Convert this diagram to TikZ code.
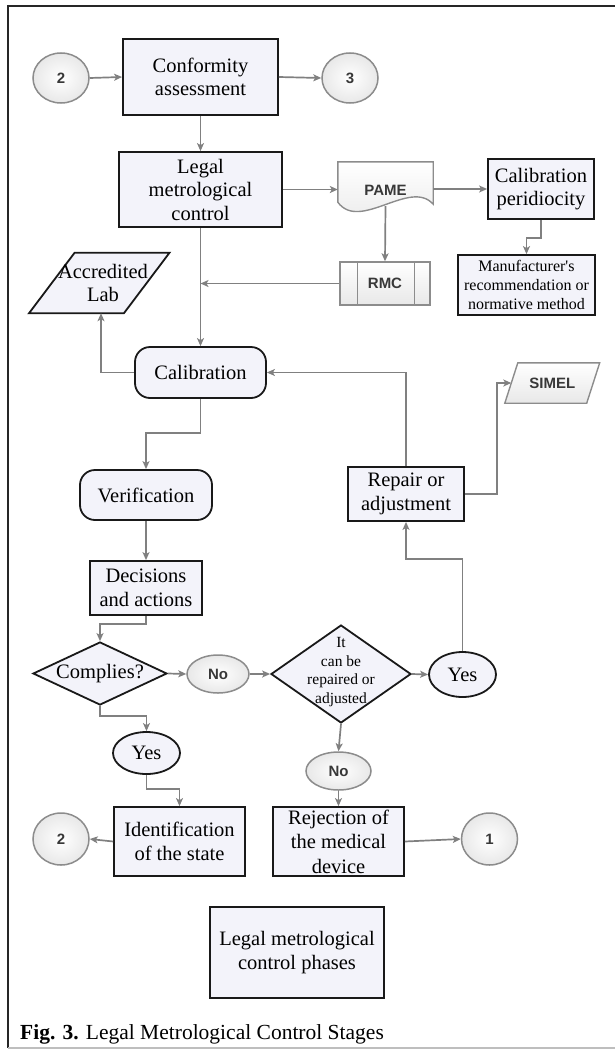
\documentclass[tikz,border=0pt]{standalone}
\usepackage{fontspec}
\setmainfont{Liberation Serif}
\newfontfamily\flowsans{Liberation Sans}
\usetikzlibrary{shapes.geometric,arrows.meta,calc}

\definecolor{boxfill}{RGB}{243,243,250}
\definecolor{linkgray}{RGB}{128,128,128}
\definecolor{rimgray}{RGB}{140,140,140}
\definecolor{termfill}{RGB}{232,232,232}
\definecolor{framegray}{RGB}{190,190,190}

\pgfdeclarelayer{bg}
\pgfsetlayers{bg,main}

\begin{document}
\begin{tikzpicture}[x=1pt,y=-1pt,
  txt/.style={font=\fontsize{20.5}{23.5}\selectfont},
  proc/.style={draw=black!90, line width=1.8pt, fill=boxfill, align=center, inner sep=0pt, txt},
  roundproc/.style={proc, rounded corners=15pt},
  sanslbl/.style={font=\flowsans\bfseries\fontsize{15}{17}\selectfont, text=black!78},
  term/.style={ellipse, draw=rimgray, line width=1.5pt, inner color=white, outer color=termfill, inner sep=0pt, sanslbl},
  answer/.style={ellipse, draw=black!90, line width=1.8pt, fill=boxfill, inner sep=0pt, txt},
  decision/.style={diamond, draw=black!90, line width=1.8pt, fill=boxfill, inner sep=0pt},
  grayshape/.style={draw=rimgray, line width=1.4pt, top color=white, bottom color=termfill},
  slanted/.style={draw=black!90, line width=1.8pt, fill=boxfill},
  link/.style={draw=linkgray, line width=1.7pt, -{Stealth[length=8pt,width=7pt,inset=2pt]}}
]
\useasboundingbox (0,0) rectangle (615,1049);

% page frame
\draw[line width=2.5pt, black!85] (8,6) -- (615,6);
\draw[line width=2pt, black!85] (8,5) -- (8,1048);
\draw[line width=1.2pt, framegray] (8,1048) -- (615,1048);

% ---------- nodes ----------
\node[term, minimum width=56, minimum height=50] (c2t) at (61,78) {2};
\node[proc, minimum width=155, minimum height=76] (conf) at (200.5,77) {Conformity\\assessment};
\node[term, minimum width=56, minimum height=50] (c3) at (350,78) {3};

\node[proc, minimum width=163, minimum height=75] (legal) at (200.5,189.5) {Legal\\metrological\\control};
\node[sanslbl, minimum width=95, minimum height=56, inner sep=0pt] (pame) at (385.5,190) {PAME};
\node[proc, minimum width=106, minimum height=60] (calper) at (541,189) {Calibration\\peridiocity};
\node[proc, minimum width=137, minimum height=60, font=\fontsize{16}{19}\selectfont] (manu) at (526.5,285) {Manufacturer\textquotesingle s\\recommendation or\\normative method};

\node[grayshape, sanslbl, minimum width=90, minimum height=43, inner sep=0pt] (rmc) at (385,283.5) {RMC};
\draw[rimgray, line width=1.4pt] ([xshift=18]rmc.north west) -- ([xshift=18]rmc.south west);
\draw[rimgray, line width=1.4pt] ([xshift=-16]rmc.north east) -- ([xshift=-16]rmc.south east);

\node[txt, align=center, inner sep=0pt, minimum width=94.5, minimum height=60] (acc) at (103,283) {Accredited\\Lab};
\node[roundproc, minimum width=131, minimum height=51] (cal) at (200.5,372.5) {Calibration};
\node[sanslbl, inner sep=0pt, minimum width=81.5, minimum height=40] (simel) at (552.25,383) {SIMEL};

\node[roundproc, minimum width=132, minimum height=50] (ver) at (146,495) {Verification};
\node[proc, minimum width=116, minimum height=54] (rep) at (406,494) {Repair or\\adjustment};
\node[proc, minimum width=112, minimum height=54] (dec) at (146,588) {Decisions\\and actions};

\node[decision, minimum width=134, minimum height=63,
  label={[txt]center:Complies?}] (comp) at (100,673.5) {};
\node[term, minimum width=62, minimum height=38] (noA) at (218,674) {No};
\node[decision, minimum width=140, minimum height=98,
  label={[font=\fontsize{15.5}{18.5}\selectfont, align=center, yshift=2pt]center:{It\\can be\\repaired or\\adjusted}}] (d2) at (341,674) {};
\node[answer, minimum width=67, minimum height=45] (yesR) at (462.5,674.5) {Yes};

\node[answer, minimum width=67, minimum height=42] (yesB) at (146.5,753) {Yes};
\node[term, minimum width=65, minimum height=38] (noB) at (338.5,771) {No};

\node[proc, minimum width=131, minimum height=69] (ident) at (179.5,841.5) {Identification\\of the state};
\node[proc, minimum width=131, minimum height=69, font=\fontsize{20.5}{24.5}\selectfont] (rej) at (338.5,841.5) {Rejection of\\the medical\\device};
\node[term, minimum width=56, minimum height=52] (c2b) at (61,839) {2};
\node[term, minimum width=56, minimum height=52] (c1) at (489.5,839) {1};

\node[proc, minimum width=174, minimum height=91] (legend) at (297,952.5) {Legal metrological\\control phases};

\node[anchor=base west, font=\fontsize{21.5}{24}\selectfont, inner sep=0pt] (caption) at (20,1039)
  {\textbf{Fig. 3.} Legal Metrological Control Stages};

% ---------- outlines drawn behind their labels ----------
\begin{pgfonlayer}{bg}
  % document shape
  \draw[grayshape] (pame.north west) -- (pame.north east) -- ($(pame.south east)+(0,-14)$)
    .. controls ($(pame.south east)+(-23,-40)$) and ($(pame.south west)+(22,14)$) .. ($(pame.south west)+(0,-16)$)
    -- cycle;
  % data shapes
  \draw[slanted] ($(acc.south west)+(-26.5,0)$) -- ($(acc.south east)+(-26.5,0)$)
    -- ($(acc.north east)+(19,0)$) -- ($(acc.north west)+(19,0)$) -- cycle;
  \draw[grayshape] ($(simel.south west)+(-6.5,0)$) -- ($(simel.south east)+(-6.5,0)$)
    -- ($(simel.north east)+(6.5,0)$) -- ($(simel.north west)+(6.5,0)$) -- cycle;
\end{pgfonlayer}

\coordinate (pamebot) at ($(pame.south)+(0,-12)$);
\coordinate (accfoot) at ($(acc.south)+(-2,0)$);

% ---------- connectors ----------
\draw[link] (c2t.east) -- (conf.west);
\draw[link] (conf.east) -- (c3.west);
\draw[link] (conf.south) -- (legal.north);
\draw[link] (legal.east) -- (legal.east -| pame.west);
\draw[link] (calper.west -| pame.east) -- (calper.west);
\draw[link] (calper.south) -- ++(0,18) -| (manu.north);
\draw[link] (pamebot) -- (rmc.north);
\draw[link] (rmc.west) -- (rmc.west -| legal.south);
\draw[link] (legal.south) -- (cal.north);
\draw[link] (cal.west) -| (accfoot);
\draw[link] (rep.north) |- (cal.east);
\draw[link] (rep.east) -- ++(32,0) |- (simel.west);
\draw[link] (yesR.north) -- ++(0,-92) -| (rep.south);
\draw[link] (cal.south) -- ++(0,34) -| (ver.north);
\draw[link] (ver.south) -- (dec.north);
\draw[link] (dec.south) -- ++(0,8) -| (comp.north);
\draw[link] (comp.east) -- (noA.west);
\draw[link] (noA.east) -- (d2.west);
\draw[link] (d2.east) -- (yesR.west);
\draw[link] (comp.south) -- ++(0,10) -| (yesB.north);
\draw[link] (d2.south) -- (noB.north);
\draw[link] (yesB.south) -- ++(0,14) -| (ident.north);
\draw[link] (noB.south) -- (rej.north);
\draw[link] (ident.west) -- (c2b.east);
\draw[link] (rej.east) -- (c1.west);
\end{tikzpicture}
\end{document}
